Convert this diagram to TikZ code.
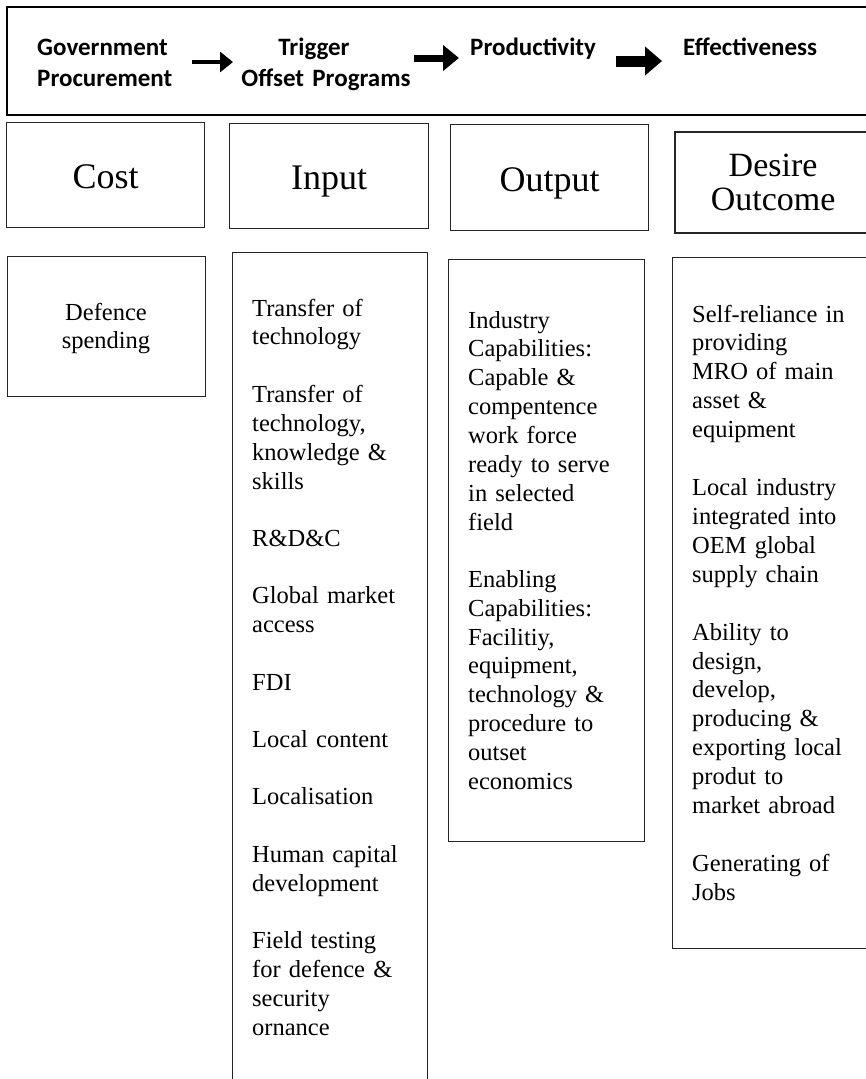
\documentclass[tikz,border=0pt]{standalone}
\usepackage{fontspec}
\setmainfont{Liberation Serif}
\newfontfamily\bannerfont{Carlito}
\usetikzlibrary{arrows.meta}

\begin{document}
\begin{tikzpicture}[x=1pt,y=-1pt,
  frame/.style={draw=black!85, line width=1.2pt, inner sep=0pt, anchor=north west},
  heading/.style={font=\fontsize{36}{40}\selectfont, text height=32pt, text depth=5pt},
  body/.style={font=\fontsize{24.5}{28.9}\selectfont, align=left, text width=185pt,
    inner sep=0pt, anchor=base west},
  bannertext/.style={font=\bannerfont\bfseries\fontsize{25}{31}\selectfont,
    inner sep=0pt, anchor=base west},
  flow/.style={draw=black}
]
\useasboundingbox (0,0) rectangle (866,1079);
\clip (0,0) rectangle (866,1079);

% ---- banner: the chain of effects ----
\node[draw=black, line width=2.2pt, inner sep=0pt, anchor=north west,
      minimum width=874pt, minimum height=108pt] (banner) at (6,6) {};
\node[bannertext, align=left, text width=160pt] (gov) at (37,55) {Government\\Procurement};
\node[bannertext, anchor=base, align=center, text width=200pt] (trig) at (326,55)
  {Trigger\hspace*{24pt}\mbox{}\\Offset Programs};
\node[bannertext] (prod) at (470,55) {Productivity};
\node[bannertext] (eff) at (683,55) {Effectiveness};

\coordinate (a1s) at (192,62);  \coordinate (a1e) at (233,62);
\coordinate (a2s) at (414,58);  \coordinate (a2e) at (459,58);
\coordinate (a3s) at (616,61);  \coordinate (a3e) at (662,61);
\draw[flow, line width=3.5pt, -{Triangle[length=13pt,width=20pt]}] (a1s) -- (a1e);
\draw[flow, line width=7pt, -{Triangle[length=16pt,width=25pt]}] (a2s) -- (a2e);
\draw[flow, line width=11pt, -{Triangle[length=17pt,width=28pt]}] (a3s) -- (a3e);

% ---- column headings ----
\node[frame, minimum width=198pt, minimum height=105pt, heading] (cost) at (6,122) {Cost};
\node[frame, minimum width=199pt, minimum height=105pt, heading] (input) at (229,123) {Input};
\node[frame, minimum width=198pt, minimum height=106pt, heading] (output) at (450,124) {Output};
\node[frame, line width=2.2pt, minimum width=196pt, minimum height=101pt,
      font=\fontsize{34}{34}\selectfont, align=center] (desire) at (674,131) {Desire\\Outcome};

% ---- column contents ----
\node[frame, minimum width=198pt, minimum height=140pt] (costbox) at (7,256) {};
\node[frame, minimum width=195pt, minimum height=850pt] (inputbox) at (232,252) {};
\node[frame, minimum width=196pt, minimum height=582pt] (outputbox) at (448,259) {};
\node[frame, minimum width=198pt, minimum height=691pt] (desirebox) at (672,257) {};

\node[body, align=center, text width=198pt, anchor=base] (costtext) at (106,320)
  {Defence\\spending};

\node[body] (inputtext) at (252,316) {%
  Transfer of\\technology\\[28.5pt]
  Transfer of\\technology,\\knowledge \&\\skills\\[28.5pt]
  R\&D\&C\\[28.5pt]
  Global market\\access\\[28.5pt]
  FDI\\[28.5pt]
  Local content\\[28.5pt]
  Localisation\\[28.5pt]
  Human capital\\development\\[28.5pt]
  Field testing\\for defence \&\\security\\ornance};

\node[body] (outputtext) at (468,328) {%
  Industry\\Capabilities:\\Capable \&\\compentence\\work force\\ready to serve\\in selected\\field\\[28pt]
  Enabling\\Capabilities:\\Facilitiy,\\equipment,\\technology \&\\procedure to\\outset\\economics};

\node[body] (desiretext) at (692,322) {%
  Self-reliance in\\providing\\MRO of main\\asset \&\\equipment\\[29pt]
  Local industry\\integrated into\\OEM global\\supply chain\\[29pt]
  Ability to\\design,\\develop,\\producing \&\\exporting local\\produt to\\market abroad\\[29pt]
  Generating of\\Jobs};
\end{tikzpicture}
\end{document}
